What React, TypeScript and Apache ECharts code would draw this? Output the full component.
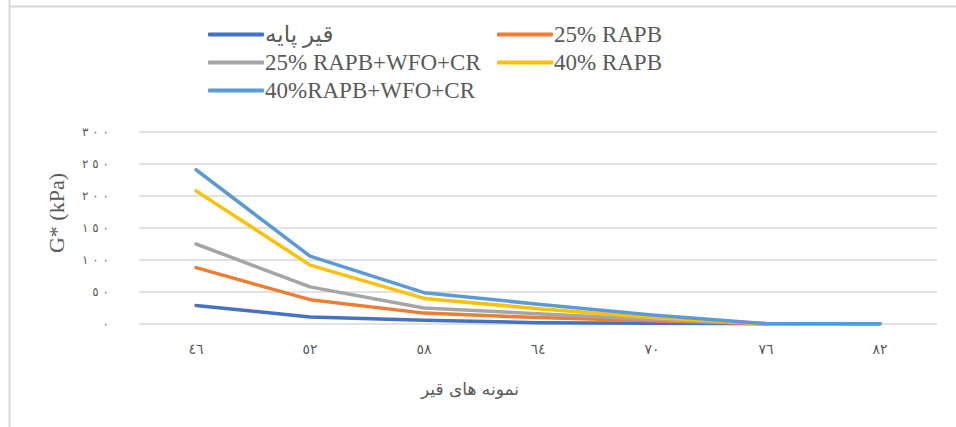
import React, { useEffect, useRef } from "react";
import * as echarts from "echarts";

const categories = ["٤٦", "٥٢", "٥٨", "٦٤", "٧٠", "٧٦", "٨٢"];
const yTickLabels = ["٠", "٥٠", "١٠٠", "١٥٠", "٢٠٠", "٢٥٠", "٣٠٠"];

const seriesNames = [
  "قیر پایه",
  "25% RAPB",
  "25% RAPB+WFO+CR",
  "40% RAPB",
  "40%RAPB+WFO+CR",
];
const baseBinder = [29, 11, 6, 2, 1, 0.3, 0.3];
const rapb25 = [88, 38, 17, 10, 5, 0.4, 0.3];
const rapb25Wfo = [125, 58, 25, 16, 7, 0.5, 0.4];
const rapb40 = [208, 92, 40, 24, 10, 0.6, 0.4];
const rapb40Wfo = [241, 106, 49, 31, 14, 0.7, 0.5];
const seriesValues = [baseBinder, rapb25, rapb25Wfo, rapb40, rapb40Wfo];
const colors = ["#4472C4", "#ED7D31", "#A5A5A5", "#FFC000", "#5B9BD5"];

// spaced digits, kept left-to-right with LRM marks
const spaced = (s: string) => s.split("").join("\u200E \u200E");

export default function App() {
  const ref = useRef<HTMLDivElement>(null);
  useEffect(() => {
    if (!ref.current) return;
    const chart = echarts.init(ref.current, undefined, { renderer: "svg" });
    const legendText = {
      fontFamily: "Liberation Serif, DejaVu Sans, serif",
      fontSize: 23,
      color: "#595959",
      padding: [0, 0, 0, -4],
    };
    chart.setOption({
      animation: false,
      backgroundColor: "#ffffff",
      color: colors,
      graphic: [
        { type: "line", shape: { x1: 9.5, y1: 0, x2: 9.5, y2: 427 }, style: { stroke: "#d9d9d9", lineWidth: 2 } },
        { type: "line", shape: { x1: 9, y1: 6.5, x2: 956, y2: 6.5 }, style: { stroke: "#d9d9d9", lineWidth: 2 } },
        {
          type: "text",
          x: 56,
          y: 213,
          rotation: Math.PI / 2,
          style: {
            text: "G* (kPa)",
            fill: "#595959",
            font: "22px 'Liberation Serif', serif",
            align: "center",
            verticalAlign: "middle",
          },
        },
        {
          type: "text",
          x: 470,
          y: 389,
          style: {
            text: "نمونه های قیر",
            fill: "#595959",
            font: "17px 'DejaVu Serif', 'DejaVu Sans', serif",
            align: "center",
            verticalAlign: "middle",
          },
        },
      ],
      legend: [
        {
          orient: "vertical",
          left: 203,
          top: 18,
          itemGap: 5,
          itemWidth: 56,
          itemHeight: 4,
          icon: "roundRect",
          textStyle: legendText,
          data: [seriesNames[0], seriesNames[2], seriesNames[4]],
        },
        {
          orient: "vertical",
          left: 492,
          top: 18,
          itemGap: 5,
          itemWidth: 56,
          itemHeight: 4,
          icon: "roundRect",
          textStyle: legendText,
          data: [seriesNames[1], seriesNames[3]],
        },
      ],
      grid: { left: 139, right: 19, top: 132, bottom: 103, containLabel: false },
      xAxis: {
        type: "category",
        data: categories,
        boundaryGap: true,
        axisLine: { show: false },
        axisTick: { show: false },
        axisLabel: { color: "#595959", fontSize: 14, fontFamily: "DejaVu Sans", margin: 18 },
      },
      yAxis: {
        type: "value",
        min: 0,
        max: 300,
        interval: 50,
        axisLine: { show: false },
        axisTick: { show: false },
        splitLine: { lineStyle: { color: "#d9d9d9", width: 1.5 } },
        axisLabel: {
          color: "#595959",
          fontSize: 12,
          fontFamily: "DejaVu Sans",
          margin: 30,
          formatter: (v: number) => spaced(yTickLabels[Math.round(v / 50)] ?? ""),
        },
      },
      series: seriesNames.map((name, i) => ({
        name,
        type: "line",
        data: seriesValues[i],
        symbol: "none",
        lineStyle: { width: 3.5, color: colors[i], cap: "round", join: "round" },
        itemStyle: { color: colors[i] },
      })),
    });
    return () => chart.dispose();
  }, []);
  return (
    <div
      ref={ref}
      style={{ position: "absolute", left: 0, top: 0, width: 956, height: 427 }}
    />
  );
}
